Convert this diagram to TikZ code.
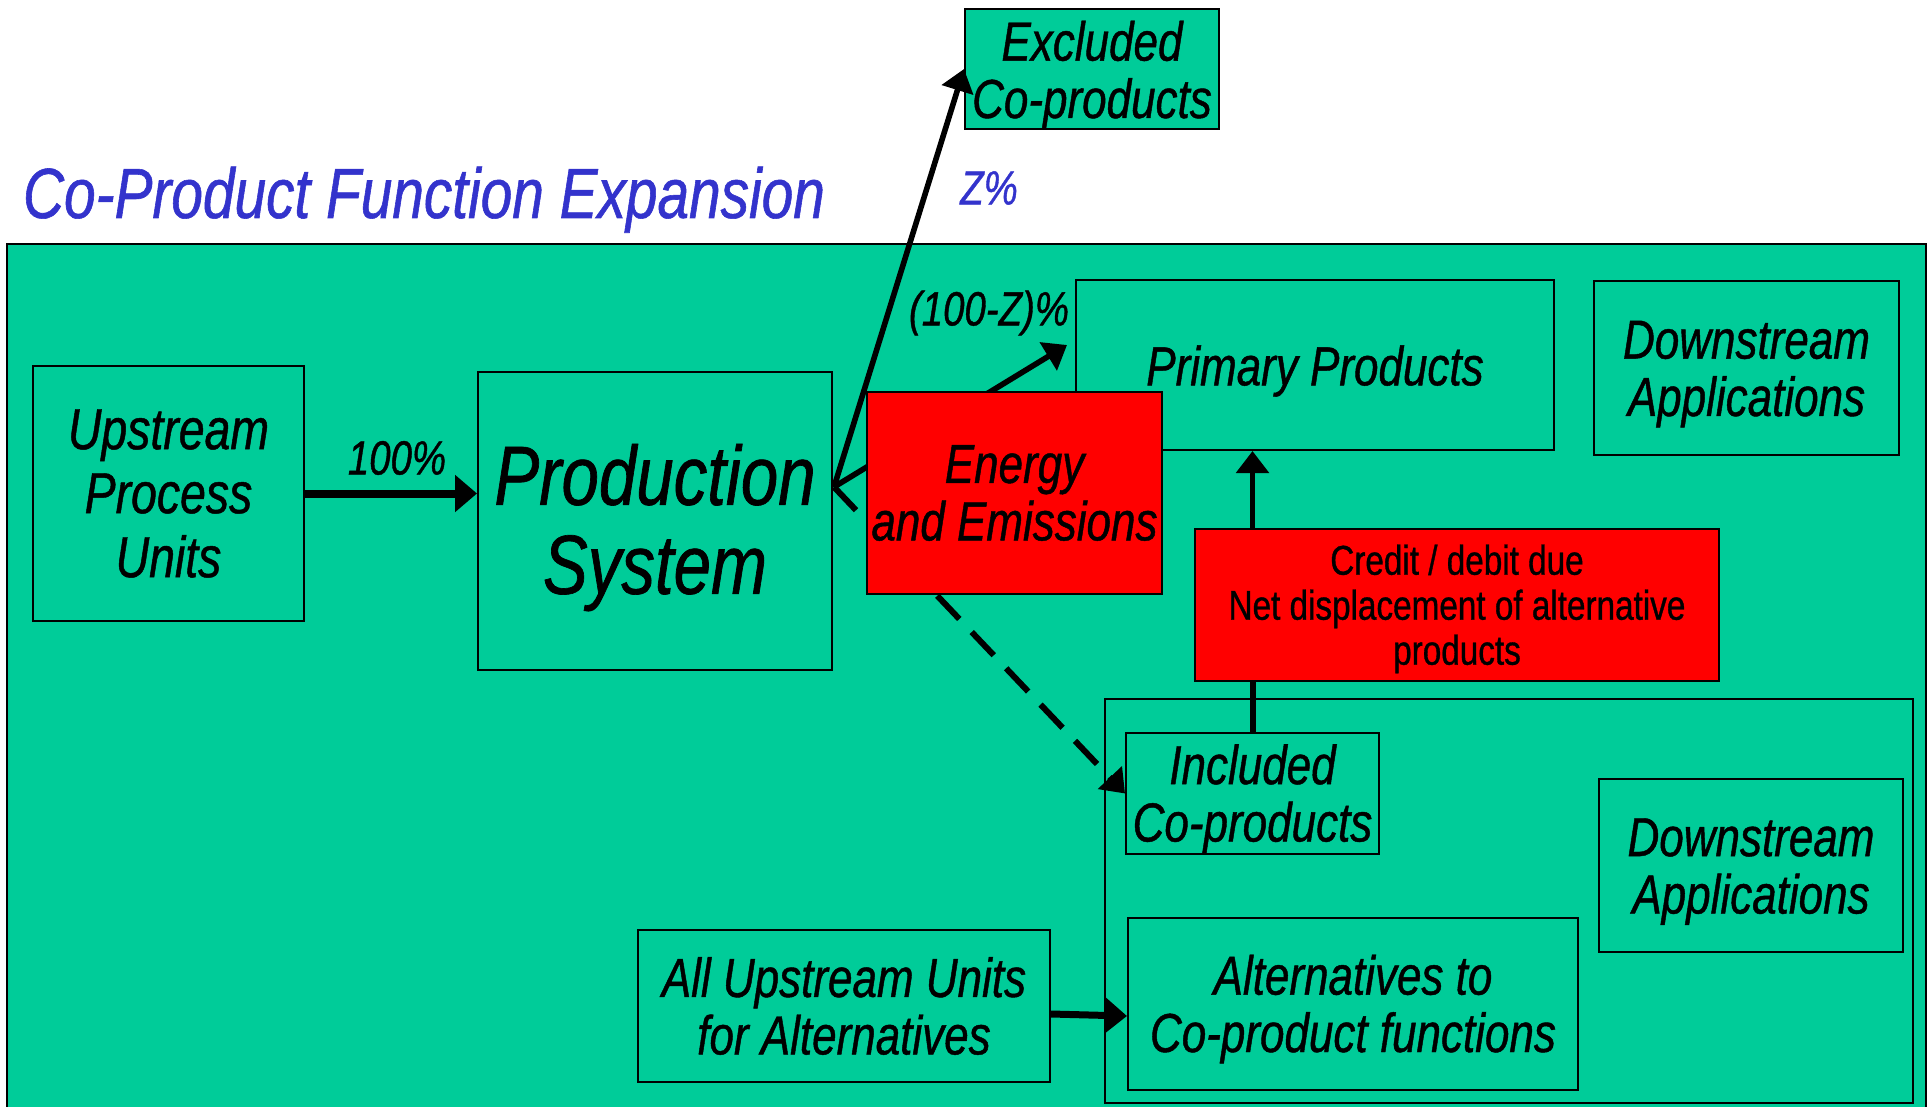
\documentclass[tikz,border=0pt]{standalone}
\usepackage{fontspec}
\setmainfont{Liberation Sans}[FakeStretch=0.8,FakeBold=0.8]
\usetikzlibrary{arrows.meta,calc}
\definecolor{cpgreen}{RGB}{0,204,153}
\definecolor{cpblue}{RGB}{51,51,204}
\newcommand{\boxfont}{\itshape\fontsize{27.5}{28.7}\selectfont}
\newcommand{\drop}[1][25pt]{\rule{0pt}{#1}}
\tikzset{
  gbox/.style={draw,line width=1pt,fill=cpgreen,align=center,font=\boxfont,inner sep=0pt},
  rbox/.style={gbox,fill=red},
  arr/.style={line width=2.8pt,-{Triangle[length=11pt,width=16pt]}},
  pct/.style={font=\itshape\fontsize{24}{26}\selectfont}
}
\begin{document}
\begin{tikzpicture}[x=0.5pt,y=-0.5pt]
        \useasboundingbox (0,0) rectangle (1932,1107);
        % frame
        \draw[line width=1pt,fill=cpgreen] (7,244) rectangle (1926,1120);
        \node[anchor=base west,text=cpblue,font=\itshape\fontsize{35.5}{36}\selectfont] (title) at (16,218) {Co-Product Function Expansion};
        \draw[line width=1pt] (1105,699) rectangle (1913,1103);
        % boxes
        \node[gbox,minimum width=127pt,minimum height=60pt] (exc) at (1092,69) {\drop[26pt]Excluded\\Co-products};
        \node[gbox,minimum width=135.5pt,minimum height=127.5pt,font=\itshape\fontsize{29}{32}\selectfont] (upu) at (168.5,493.5) {Upstream\\Process\\Units};
        \node[gbox,minimum width=177pt,minimum height=149pt,font=\itshape\fontsize{42}{44.5}\selectfont] (ps) at (655,521) {\drop[37pt]Production\\System};
        \node[gbox,minimum width=239pt,minimum height=85pt] (prim) at (1315,365) {\drop[26pt]Primary Products};
        \node[gbox,minimum width=152.5pt,minimum height=87pt] (dsa1) at (1746.5,368) {\drop Downstream\\Applications};
        \node[gbox,minimum width=126.5pt,minimum height=60.5pt] (inc) at (1252.5,793.5) {\drop Included\\Co-products};
        \node[gbox,minimum width=152pt,minimum height=86.5pt] (dsa2) at (1751,865.5) {\drop Downstream\\Applications};
        \node[gbox,minimum width=225pt,minimum height=86pt] (alt) at (1353,1004) {\drop Alternatives to\\Co-product functions};
        \node[gbox,minimum width=206pt,minimum height=76pt] (allup) at (844,1006) {All Upstream Units\\for Alternatives};
        \node[rbox,minimum width=262pt,minimum height=76pt,font=\fontsize{20.8}{22.5}\selectfont] (cred) at (1457,605) {\drop[19pt]Credit / debit due\\Net displacement of alternative\\products};
        % labels
        \node[pct] (l100) at (397,458) {100\%};
        \node[pct,text=cpblue] (lz) at (989,188) {Z\%};
        \node[pct] (l100z) at (989,313) {(100-Z)\%};
        % arrows
        \coordinate (out) at (834,487);
        \draw[arr,line width=4pt,-{Triangle[length=11pt,width=18pt]}] (upu.east) -- (upu.east -| ps.west);
        \draw[arr] (out) -- (exc.west);
        \draw[arr] (out) -- ([shift={(-8,-20)}]prim.west);
        \draw[arr,line width=3pt,dash pattern=on 16pt off 9pt] (out) -- (inc.west);
        \draw[arr] (inc.north |- cred.north) -- (inc.north |- prim.south);
        \draw[line width=3pt] (inc.north) -- (inc.north |- cred.south);
        \draw[arr,line width=3.5pt,-{Triangle[length=11pt,width=17.5pt]}] ([yshift=-4pt]allup.east) -- ([yshift=-6pt]alt.west);
        \node[rbox,minimum width=147.5pt,minimum height=101pt] (ene) at (1014.5,493) {Energy\\and Emissions};
    \end{tikzpicture}
\end{document}
